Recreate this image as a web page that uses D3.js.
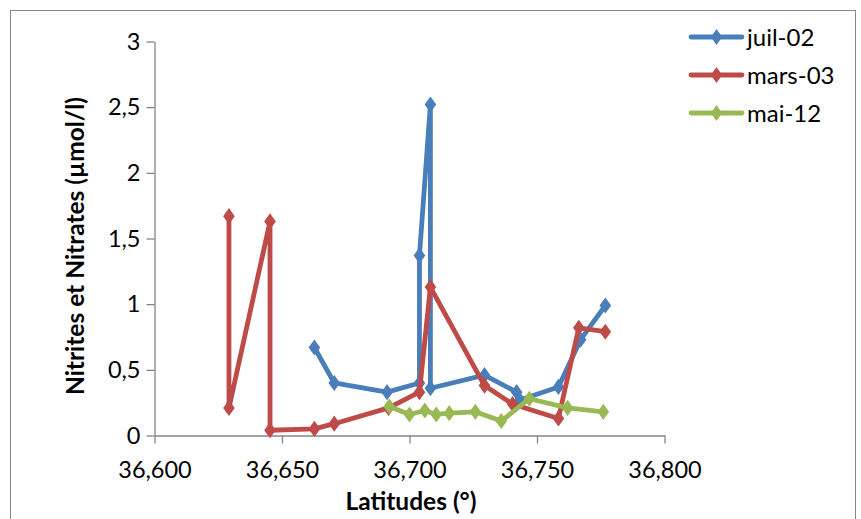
<!DOCTYPE html>
<html><head><meta charset="utf-8">
<script src="https://cdn.jsdelivr.net/npm/d3@7"></script>
<style>body{margin:0;background:#fff}svg{display:block}</style>
</head><body>
<svg id="c" width="861" height="519"></svg>
<script>
const seriesNames = ["juil-02", "mars-03", "mai-12"];
const seriesColors = ["#4A7EBB", "#BE4B48", "#98B954"];
const juilLat = [36.6627, 36.6705, 36.6912, 36.7039, 36.7039, 36.7082, 36.7082, 36.7294, 36.7420, 36.7433, 36.7584, 36.7671, 36.7768];
const juilVal = [0.67, 0.40, 0.33, 0.40, 1.37, 2.52, 0.36, 0.46, 0.33, 0.27, 0.37, 0.73, 0.99];
const marsLat = [36.6292, 36.6292, 36.6453, 36.6453, 36.6627, 36.6705, 36.6918, 36.7039, 36.7082, 36.7294, 36.7404, 36.7584, 36.7664, 36.7768];
const marsVal = [1.67, 0.21, 1.63, 0.04, 0.05, 0.09, 0.21, 0.33, 1.13, 0.38, 0.24, 0.13, 0.82, 0.79];
const maiLat = [36.6921, 36.7000, 36.7060, 36.7105, 36.7156, 36.7258, 36.7360, 36.7470, 36.7620, 36.7760];
const maiVal = [0.22, 0.16, 0.19, 0.16, 0.17, 0.18, 0.11, 0.28, 0.21, 0.18];
const xTicks = [36.6, 36.65, 36.7, 36.75, 36.8];
const yTicks = [0, 0.5, 1, 1.5, 2, 2.5, 3];
const xTitle = "Latitudes (°)";
const yTitle = "Nitrites et Nitrates (µmol/l)";

const series = [
  {name: seriesNames[0], color: seriesColors[0], pts: juilLat.map((x,i)=>[x, juilVal[i]])},
  {name: seriesNames[1], color: seriesColors[1], pts: marsLat.map((x,i)=>[x, marsVal[i]])},
  {name: seriesNames[2], color: seriesColors[2], pts: maiLat.map((x,i)=>[x, maiVal[i]])}
];

const svg = d3.select("#c");
const font = "Lato, 'Open Sans', sans-serif";
svg.append("rect").attr("x",10.5).attr("y",10.5).attr("width",845).attr("height",530)
  .attr("fill","#fff").attr("stroke","#888").attr("stroke-width",1);

const x = d3.scaleLinear().domain([36.6, 36.8]).range([154.5, 664.5]);
const y = d3.scaleLinear().domain([0, 3]).range([435.5, 41.5]);
const fmt = (d, n) => d3.format("." + n + "f")(d).replace(".", ",");
const axisColor = "#868686";

const gx = svg.append("g").attr("transform","translate(0,435.5)")
  .call(d3.axisBottom(x).tickValues(xTicks).tickFormat(d=>fmt(d,3)).tickSize(8).tickSizeOuter(0));
const gy = svg.append("g").attr("transform","translate(154.5,0)")
  .call(d3.axisLeft(y).tickValues(yTicks).tickFormat(d=>d===Math.round(d)?String(d):fmt(d,1)).tickSize(8).tickSizeOuter(0));
[gx, gy].forEach(g=>{
  g.selectAll("path,line").attr("stroke",axisColor).attr("stroke-width",1.3);
  g.selectAll("text").attr("font-family",font).attr("font-size",23.5).attr("fill","#000");
});
gx.selectAll("text").attr("y",42).attr("dy",0);
gy.selectAll("text").attr("x",-14).attr("dx",0);

svg.append("text").attr("x",411).attr("y",510).attr("text-anchor","middle")
  .attr("font-family",font).attr("font-weight","bold").attr("font-size",24.5).text(xTitle);
svg.append("text").attr("transform","translate(84,246) rotate(-90)").attr("text-anchor","middle")
  .attr("font-family",font).attr("font-weight","bold").attr("font-size",24.5).text(yTitle);

const line = d3.line().x(d=>x(d[0])).y(d=>y(d[1]));
const diamond = d3.symbol().type(d3.symbolDiamond).size(75);
series.forEach(s=>{
  const g = svg.append("g");
  g.append("path").datum(s.pts).attr("d",line).attr("fill","none")
    .attr("stroke",s.color).attr("stroke-width",4.8).attr("stroke-linejoin","round").attr("stroke-linecap","round");
  g.selectAll("path.m").data(s.pts).join("path").attr("class","m")
    .attr("d",diamond).attr("transform",d=>`translate(${x(d[0])},${y(d[1])}) scale(1.25,1)`)
    .attr("fill",s.color);
});

const leg = svg.append("g");
series.forEach((s,i)=>{
  const yy = 37 + i*38;
  leg.append("line").attr("x1",691).attr("x2",742).attr("y1",yy).attr("y2",yy)
    .attr("stroke",s.color).attr("stroke-width",4.8).attr("stroke-linecap","round");
  leg.append("path").attr("d",diamond).attr("transform",`translate(716.5,${yy}) scale(1.2,1)`).attr("fill",s.color);
  leg.append("text").attr("x",747).attr("y",yy).attr("dy","0.36em")
    .attr("font-family",font).attr("font-size",24).text(s.name);
});
</script>
</body></html>
